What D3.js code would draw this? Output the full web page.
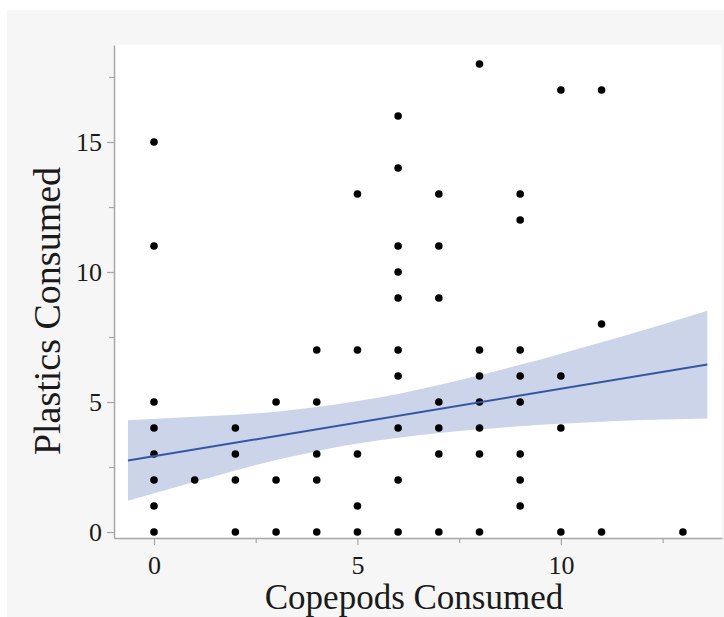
<!DOCTYPE html>
<html>
<head>
<meta charset="utf-8">
<script src="https://cdn.jsdelivr.net/npm/d3@7"></script>
<style>
  html, body { margin: 0; padding: 0; background: #ffffff; }
  svg { display: block; }
  text { font-family: "Liberation Serif", "Times New Roman", serif; }
</style>
</head>
<body>
<svg id="chart" width="724" height="617"></svg>
<script>
// copepods eaten (x) vs plastics eaten (y), one entry per fish
const copepods = [
  0, 0, 0, 0, 0, 0, 0, 0,
  1,
  2, 2, 2, 2,
  3, 3, 3,
  4, 4, 4, 4, 4,
  5, 5, 5, 5, 5,
  6, 6, 6, 6, 6, 6, 6, 6, 6, 6,
  7, 7, 7, 7, 7, 7, 7,
  8, 8, 8, 8, 8, 8, 8,
  9, 9, 9, 9, 9, 9, 9, 9,
  10, 10, 10, 10,
  11, 11, 11,
  13
];
const plastics = [
  15, 11, 5, 4, 3, 2, 1, 0,
  2,
  4, 3, 2, 0,
  5, 2, 0,
  7, 5, 3, 2, 0,
  13, 7, 3, 1, 0,
  16, 14, 11, 10, 9, 7, 6, 4, 2, 0,
  13, 11, 9, 5, 4, 3, 0,
  18, 7, 6, 5, 4, 3, 0,
  13, 12, 7, 6, 5, 3, 2, 1,
  17, 6, 4, 0,
  17, 8, 0,
  0
];

// fitted line and its confidence band
const fitX = [-0.64, 13.6];
const fitY = [2.75, 6.44];
const bandX  = [-0.64, 1, 2, 3, 4, 5, 6, 7, 8, 9, 10, 11, 12, 13.6];
const bandLo = [1.20, 1.93, 2.37, 2.77, 3.11, 3.40, 3.63, 3.81, 3.95, 4.07, 4.16, 4.24, 4.31, 4.37];
const bandHi = [4.30, 4.43, 4.51, 4.63, 4.81, 5.04, 5.31, 5.65, 6.03, 6.43, 6.86, 7.30, 7.75, 8.51];

const xTicks = [0, 5, 10];
const xMinor = [2.5, 7.5, 12.5];
const yTicks = [0, 5, 10, 15];
const yMinor = [2.5, 7.5, 12.5, 17.5];

const svg = d3.select('#chart');

// grey panel behind everything
svg.append('rect')
  .attr('x', 7).attr('y', 10)
  .attr('width', 717).attr('height', 607)
  .attr('fill', '#f6f6f6');

const plot = { left: 114, right: 722, top: 45, bottom: 538 };

svg.append('rect')
  .attr('x', plot.left).attr('y', plot.top)
  .attr('width', plot.right - plot.left)
  .attr('height', plot.bottom - plot.top)
  .attr('fill', '#ffffff');

const x = d3.scaleLinear().domain([-0.983, 13.96]).range([plot.left, plot.right]);
const y = d3.scaleLinear().domain([-0.23, 18.73]).range([plot.bottom, plot.top]);

// confidence band
const bandData = bandX.map((v, i) => ({ x: v, lo: bandLo[i], hi: bandHi[i] }));
svg.append('path')
  .datum(bandData)
  .attr('fill', '#cbd4e8')
  .attr('d', d3.area()
    .x(d => x(d.x))
    .y0(d => y(d.lo))
    .y1(d => y(d.hi))
    .curve(d3.curveMonotoneX));

// points
svg.append('g')
  .selectAll('circle')
  .data(copepods.map((c, i) => ({ c: c, p: plastics[i] })))
  .join('circle')
  .attr('cx', d => x(d.c))
  .attr('cy', d => y(d.p))
  .attr('r', 3.8)
  .attr('fill', '#000000');

// fitted line
svg.append('path')
  .datum(fitX.map((v, i) => [v, fitY[i]]))
  .attr('fill', 'none')
  .attr('stroke', '#3656a4')
  .attr('stroke-width', 2)
  .attr('d', d3.line().x(d => x(d[0])).y(d => y(d[1])));

// axes
const axisColor = '#a6a6a6';

const xAxis = svg.append('g')
  .attr('transform', `translate(0,${plot.bottom})`)
  .call(d3.axisBottom(x).tickValues(xTicks).tickSize(7).tickPadding(11).tickSizeOuter(0));
xAxis.append('g')
  .call(d3.axisBottom(x).tickValues(xMinor).tickSize(5).tickFormat('').tickSizeOuter(0));

const yAxis = svg.append('g')
  .attr('transform', `translate(${plot.left},0)`)
  .call(d3.axisLeft(y).tickValues(yTicks).tickSize(7).tickPadding(5).tickSizeOuter(0));
yAxis.append('g')
  .call(d3.axisLeft(y).tickValues(yMinor).tickSize(5).tickFormat('').tickSizeOuter(0));

svg.selectAll('.domain').attr('stroke', axisColor).attr('stroke-width', 1.5);
svg.selectAll('.tick line').attr('stroke', axisColor).attr('stroke-width', 1.2);
svg.selectAll('.tick text')
  .attr('fill', '#1a1a1a')
  .style('font-family', '"Liberation Serif", "Times New Roman", serif')
  .style('font-size', '26px');
// the minor axis copies draw their own domain line, hide it
xAxis.select('g .domain').remove();
yAxis.select('g .domain').remove();

// axis titles
svg.append('text')
  .attr('x', 414)
  .attr('y', 609)
  .attr('text-anchor', 'middle')
  .attr('fill', '#1a1a1a')
  .style('font-size', '35px')
  .text('Copepods Consumed');

svg.append('text')
  .attr('transform', `translate(60,311) rotate(-90)`)
  .attr('text-anchor', 'middle')
  .attr('fill', '#1a1a1a')
  .style('font-size', '38px')
  .text('Plastics Consumed');
</script>
</body>
</html>
